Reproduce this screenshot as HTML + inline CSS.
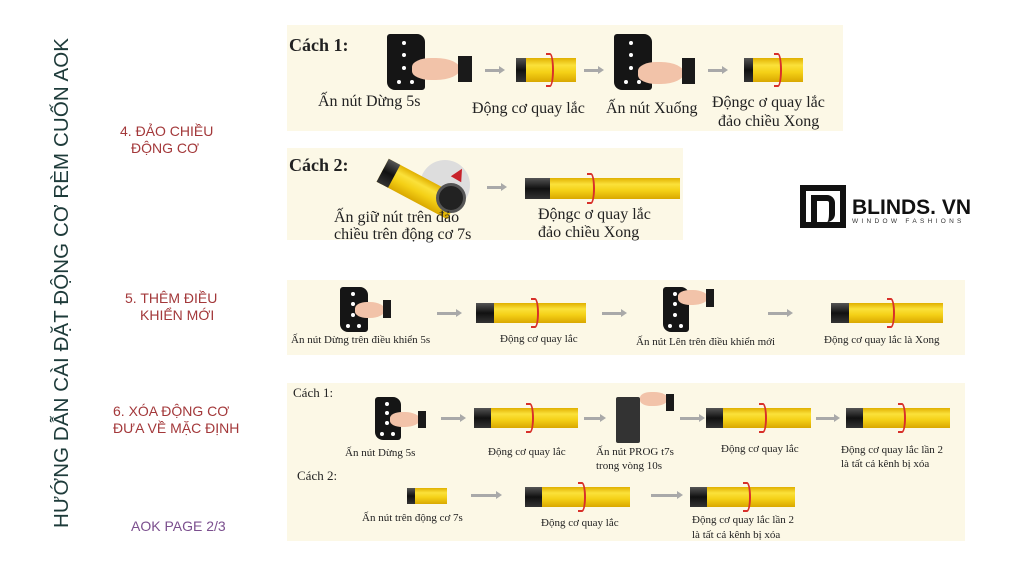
<!DOCTYPE html>
<html><head><meta charset="utf-8">
<style>
*{margin:0;padding:0;box-sizing:border-box}
body{width:1020px;height:574px;background:#fff;position:relative;overflow:hidden;font-family:"Liberation Serif",serif;color:#222}
.p{position:absolute;background:#fcf8e6}
.t{position:absolute;white-space:nowrap;line-height:1.1}
.s{font-size:16px}
.x{font-size:11px}
.lab{position:absolute;font-family:"Liberation Sans",sans-serif;color:#a3383a;font-size:14px;line-height:17px;white-space:nowrap}
.m{position:absolute;background:linear-gradient(#e0b000 0%,#fbe13a 30%,#f4d016 60%,#d9a800 100%)}
.m::before{content:"";position:absolute;left:0;top:0;bottom:0;width:16%;min-width:8px;background:linear-gradient(#555,#111 50%,#333)}
.m i{position:absolute;left:50%;top:-5px;bottom:-5px;width:8px;border:2px solid #d8302a;border-left:none;border-radius:0 50% 50% 0}
.a{position:absolute;height:3px;background:#a9a9a9}
.a::after{content:"";position:absolute;right:-5px;top:-3px;border-left:6px solid #a9a9a9;border-top:4.5px solid transparent;border-bottom:4.5px solid transparent}
.r{position:absolute;background:#151515;border-radius:3px 8px 3px 8px}
.r b{position:absolute;left:40%;width:4px;height:4px;background:#fff;border-radius:50%}
.hd{position:absolute;background:#f2c3a9;border-radius:40% 50% 50% 40%}
.cf{position:absolute;background:#1a1a1a}
</style></head><body>

<div style="position:absolute;left:40px;top:528px;width:484px;transform:rotate(-90deg);transform-origin:0 0;font-family:'Liberation Sans',sans-serif;font-size:20.5px;color:#1e3b3a;white-space:nowrap;letter-spacing:0.1px;line-height:44px">HƯỚNG DẪN CÀI ĐẶT ĐỘNG CƠ RÈM CUỐN AOK</div>

<div class="lab" style="left:120px;top:123px">4. ĐẢO CHIỀU</div>
<div class="lab" style="left:131px;top:140px">ĐỘNG CƠ</div>
<div class="lab" style="left:125px;top:290px">5. THÊM ĐIỀU</div>
<div class="lab" style="left:140px;top:307px">KHIỂN MỚI</div>
<div class="lab" style="left:113px;top:403px">6. XÓA ĐỘNG CƠ</div>
<div class="lab" style="left:113px;top:420px">ĐƯA VỀ MẶC ĐỊNH</div>
<div class="lab" style="left:131px;top:518px;color:#7b4f8e">AOK PAGE 2/3</div>

<!-- panel 1 -->
<div class="p" style="left:287px;top:25px;width:556px;height:106px"></div>
<div class="t" style="left:289px;top:36px;font-size:18px;font-weight:bold">Cách 1:</div>
<div class="r" style="left:387px;top:34px;width:38px;height:56px"><b style="top:7px"></b><b style="top:19px"></b><b style="top:32px"></b><b style="top:46px;left:25%"></b><b style="top:46px;left:60%"></b></div>
<div class="hd" style="left:412px;top:58px;width:48px;height:22px"></div><div class="cf" style="left:458px;top:56px;width:14px;height:26px"></div>
<div class="a" style="left:485px;top:69px;width:15px"></div>
<div class="m" style="left:516px;top:58px;width:60px;height:24px"><i></i></div>
<div class="a" style="left:584px;top:69px;width:15px"></div>
<div class="r" style="left:614px;top:34px;width:38px;height:56px"><b style="top:7px"></b><b style="top:19px"></b><b style="top:32px"></b><b style="top:46px;left:25%"></b><b style="top:46px;left:60%"></b></div>
<div class="hd" style="left:638px;top:62px;width:46px;height:22px"></div><div class="cf" style="left:682px;top:58px;width:13px;height:26px"></div>
<div class="a" style="left:708px;top:69px;width:15px"></div>
<div class="m" style="left:744px;top:58px;width:59px;height:24px"><i></i></div>
<div class="t s" style="left:318px;top:93px">Ấn nút Dừng 5s</div>
<div class="t s" style="left:472px;top:100px">Động cơ quay lắc</div>
<div class="t s" style="left:606px;top:100px">Ấn nút Xuống</div>
<div class="t s" style="left:712px;top:94px">Độngc ơ quay lắc</div>
<div class="t s" style="left:718px;top:113px">đảo chiều Xong</div>

<!-- panel 2 -->
<div class="p" style="left:287px;top:148px;width:396px;height:92px"></div>
<div class="t" style="left:289px;top:156px;font-size:18px;font-weight:bold">Cách 2:</div>
<div style="position:absolute;left:420px;top:160px;width:50px;height:50px;border-radius:50%;background:#ddd"></div>
<div class="m" style="left:378px;top:176px;width:80px;height:26px;transform:rotate(28deg);transform-origin:center"></div>
<div style="position:absolute;left:436px;top:183px;width:30px;height:30px;border-radius:50%;background:#222;border:3px solid #555"></div>
<div style="position:absolute;left:453px;top:168px;border-left:12px solid #c8222a;border-top:6px solid transparent;border-bottom:6px solid transparent;transform:rotate(-60deg)"></div>
<div class="a" style="left:487px;top:186px;width:15px"></div>
<div class="m" style="left:525px;top:178px;width:155px;height:21px"><i style="left:40%"></i></div>
<div class="t s" style="left:334px;top:209px">Ấn giữ nút trên đảo</div>
<div class="t s" style="left:334px;top:226px">chiều trên động cơ 7s</div>
<div class="t s" style="left:538px;top:206px">Độngc ơ quay lắc</div>
<div class="t s" style="left:538px;top:224px">đảo chiều Xong</div>

<!-- logo -->
<div style="position:absolute;left:800px;top:185px;width:46px;height:43px;background:#111"></div>
<div style="position:absolute;left:806px;top:191px;width:34px;height:31px;background:#fff"></div>
<div style="position:absolute;left:811px;top:195px;width:24px;height:27px;border:6px solid #111;border-radius:0 8px 8px 0;border-bottom:none"></div>
<div style="position:absolute;left:811px;top:195px;width:6px;height:27px;background:#111"></div>
<div class="t" style="left:852px;top:196px;font-family:'Liberation Sans',sans-serif;font-size:21px;font-weight:bold;color:#111">BLINDS. VN</div>
<div class="t" style="left:852px;top:218px;font-family:'Liberation Sans',sans-serif;font-size:6.5px;letter-spacing:3.3px;color:#333">WINDOW FASHIONS</div>

<!-- panel 3 -->
<div class="p" style="left:287px;top:280px;width:678px;height:75px"></div>
<div class="r" style="left:340px;top:287px;width:28px;height:45px"><b style="top:5px"></b><b style="top:15px"></b><b style="top:26px"></b><b style="top:37px;left:20%"></b><b style="top:37px;left:60%"></b></div>
<div class="hd" style="left:355px;top:302px;width:30px;height:16px"></div><div class="cf" style="left:383px;top:300px;width:8px;height:18px"></div>
<div class="a" style="left:437px;top:312px;width:20px"></div>
<div class="m" style="left:476px;top:303px;width:110px;height:20px"><i></i></div>
<div class="a" style="left:602px;top:312px;width:20px"></div>
<div class="r" style="left:663px;top:287px;width:26px;height:45px"><b style="top:5px"></b><b style="top:15px"></b><b style="top:26px"></b><b style="top:37px;left:20%"></b><b style="top:37px;left:60%"></b></div>
<div class="hd" style="left:678px;top:290px;width:30px;height:15px"></div><div class="cf" style="left:706px;top:289px;width:8px;height:18px"></div>
<div class="a" style="left:768px;top:312px;width:20px"></div>
<div class="m" style="left:831px;top:303px;width:112px;height:20px"><i></i></div>
<div class="t x" style="left:291px;top:334px">Ấn nút Dừng trên điều khiển 5s</div>
<div class="t x" style="left:500px;top:333px">Động cơ quay lắc</div>
<div class="t x" style="left:636px;top:336px">Ấn nút Lên trên điều khiển mới</div>
<div class="t x" style="left:824px;top:334px">Động cơ quay lắc là Xong</div>

<!-- panel 4 -->
<div class="p" style="left:287px;top:383px;width:678px;height:158px"></div>
<div class="t" style="left:293px;top:386px;font-size:13px">Cách 1:</div>
<div class="r" style="left:375px;top:397px;width:26px;height:43px"><b style="top:5px"></b><b style="top:14px"></b><b style="top:24px"></b><b style="top:35px;left:20%"></b><b style="top:35px;left:60%"></b></div>
<div class="hd" style="left:390px;top:412px;width:30px;height:15px"></div><div class="cf" style="left:418px;top:411px;width:8px;height:17px"></div>
<div class="a" style="left:441px;top:417px;width:20px"></div>
<div class="m" style="left:474px;top:408px;width:104px;height:20px"><i></i></div>
<div class="a" style="left:584px;top:417px;width:17px"></div>
<div class="r" style="left:616px;top:397px;width:24px;height:46px;background:#333;border-radius:2px"></div>
<div class="hd" style="left:640px;top:392px;width:28px;height:14px"></div><div class="cf" style="left:666px;top:394px;width:8px;height:17px"></div>
<div class="a" style="left:680px;top:417px;width:20px"></div>
<div class="m" style="left:706px;top:408px;width:105px;height:20px"><i></i></div>
<div class="a" style="left:816px;top:417px;width:19px"></div>
<div class="m" style="left:846px;top:408px;width:104px;height:20px"><i></i></div>
<div class="t x" style="left:345px;top:447px">Ấn nút Dừng 5s</div>
<div class="t x" style="left:488px;top:446px">Động cơ quay lắc</div>
<div class="t x" style="left:596px;top:446px">Ấn nút PROG t7s</div>
<div class="t x" style="left:596px;top:460px">trong vòng 10s</div>
<div class="t x" style="left:721px;top:443px">Động cơ quay lắc</div>
<div class="t x" style="left:841px;top:444px">Động cơ quay lắc lần 2</div>
<div class="t x" style="left:841px;top:458px">là tất cả kênh bị xóa</div>
<div class="t" style="left:297px;top:469px;font-size:13px">Cách 2:</div>
<div class="m" style="left:407px;top:488px;width:40px;height:16px"></div>
<div class="a" style="left:471px;top:494px;width:26px"></div>
<div class="m" style="left:525px;top:487px;width:105px;height:20px"><i></i></div>
<div class="a" style="left:651px;top:494px;width:27px"></div>
<div class="m" style="left:690px;top:487px;width:105px;height:20px"><i></i></div>
<div class="t x" style="left:362px;top:512px">Ấn nút trên động cơ 7s</div>
<div class="t x" style="left:541px;top:517px">Động cơ quay lắc</div>
<div class="t x" style="left:692px;top:514px">Động cơ quay lắc lần 2</div>
<div class="t x" style="left:692px;top:529px">là tất cả kênh bị xóa</div>

</body></html>
